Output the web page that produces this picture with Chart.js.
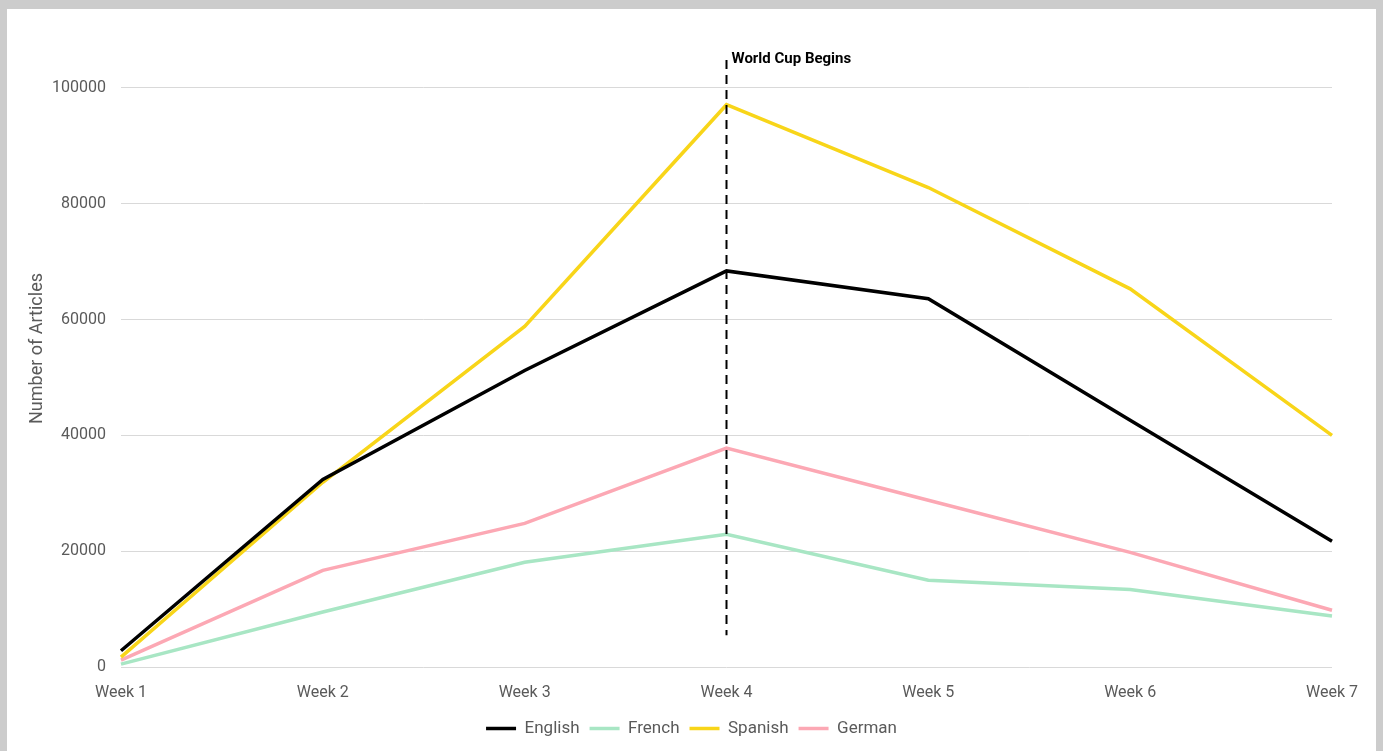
<!DOCTYPE html>
<html>
<head>
<meta charset="utf-8">
<script src="https://cdn.jsdelivr.net/npm/chart.js@4"></script>
<style>
  html, body { margin: 0; padding: 0; background: #cccccc; width: 1383px; height: 751px; overflow: hidden; }
  #frame { position: absolute; left: 7px; top: 9px; width: 1369px; height: 742px; background: #ffffff; }
  canvas { display: block; }
</style>
</head>
<body>
<div id="frame"><canvas id="c" width="1369" height="742"></canvas></div>
<script>
const categories = ['Week 1', 'Week 2', 'Week 3', 'Week 4', 'Week 5', 'Week 6', 'Week 7'];
const english = [2800, 32400, 51200, 68400, 63600, 42600, 21700];
const french  = [500, 9500, 18100, 22900, 15000, 13400, 8800];
const spanish = [1700, 31900, 58800, 97100, 82800, 65300, 40000];
const german  = [1200, 16700, 24800, 37800, 28800, 19800, 9800];
const yTicks = [0, 20000, 40000, 60000, 80000, 100000];
const annotationCategory = 'Week 4';
const annotationText = 'World Cup Begins';
const annotationRange = [5500, 104800];

const tickColor = '#5a5a5a';
const fontFamily = 'Roboto, "Noto Sans", sans-serif';

const vlinePlugin = {
  id: 'vline',
  afterDatasetsDraw(chart) {
    const { ctx, scales } = chart;
    const x = scales.x.getPixelForValue(categories.indexOf(annotationCategory));
    const yTop = scales.y.getPixelForValue(annotationRange[1]);
    const yBot = scales.y.getPixelForValue(annotationRange[0]);
    ctx.save();
    ctx.strokeStyle = '#000000';
    ctx.lineWidth = 2;
    ctx.setLineDash([9, 6]);
    ctx.beginPath();
    ctx.moveTo(x, yTop);
    ctx.lineTo(x, yBot);
    ctx.stroke();
    ctx.setLineDash([]);
    ctx.fillStyle = '#000000';
    ctx.font = 'bold 15px ' + fontFamily;
    ctx.textBaseline = 'middle';
    ctx.textAlign = 'left';
    ctx.fillText(annotationText, x + 5, yTop - 1);
    ctx.restore();
  }
};

function ds(label, data, color) {
  return {
    label, data,
    borderColor: color, backgroundColor: color,
    borderWidth: 3.5, pointRadius: 0, pointHoverRadius: 0,
    tension: 0, fill: false
  };
}

new Chart(document.getElementById('c'), {
  type: 'line',
  data: {
    labels: categories,
    datasets: [
      ds('English', english, '#000000'),
      ds('French', french, '#a8e6c4'),
      ds('Spanish', spanish, '#f8d519'),
      ds('German', german, '#fca8b4')
    ]
  },
  options: {
    responsive: false,
    animation: false,
    layout: { padding: { left: 0, right: 0, top: 21, bottom: 4 } },
    plugins: {
      legend: {
        position: 'bottom',
        labels: {
          usePointStyle: true,
          pointStyle: 'line',
          pointStyleWidth: 30,
          padding: 10,
          color: tickColor,
          font: { family: fontFamily, size: 17 }
        }
      },
      tooltip: { enabled: false }
    },
    scales: {
      x: {
        afterFit(scale) { scale.height = 43; scale.paddingRight = 44; },
        grid: { display: false, drawTicks: false },
        border: { display: false },
        ticks: { padding: 16, color: tickColor, font: { family: fontFamily, size: 16 }, maxRotation: 0, autoSkip: false }
      },
      y: {
        min: 0, max: 110000,
        afterBuildTicks(scale) { scale.ticks = yTicks.map(v => ({ value: v })); },
        afterFit(scale) { scale.width = 114; },
        grid: { color: '#d9d9d9', lineWidth: 1, drawTicks: true, tickLength: 12, tickColor: 'rgba(0,0,0,0)' },
        border: { display: false },
        ticks: { padding: 3, color: tickColor, font: { family: fontFamily, size: 16 }, callback: v => String(v) },
        title: { display: true, text: 'Number of Articles', color: tickColor, font: { family: fontFamily, size: 18 }, padding: { top: 20, bottom: 0 } }
      }
    }
  },
  plugins: [vlinePlugin]
});
</script>
</body>
</html>
